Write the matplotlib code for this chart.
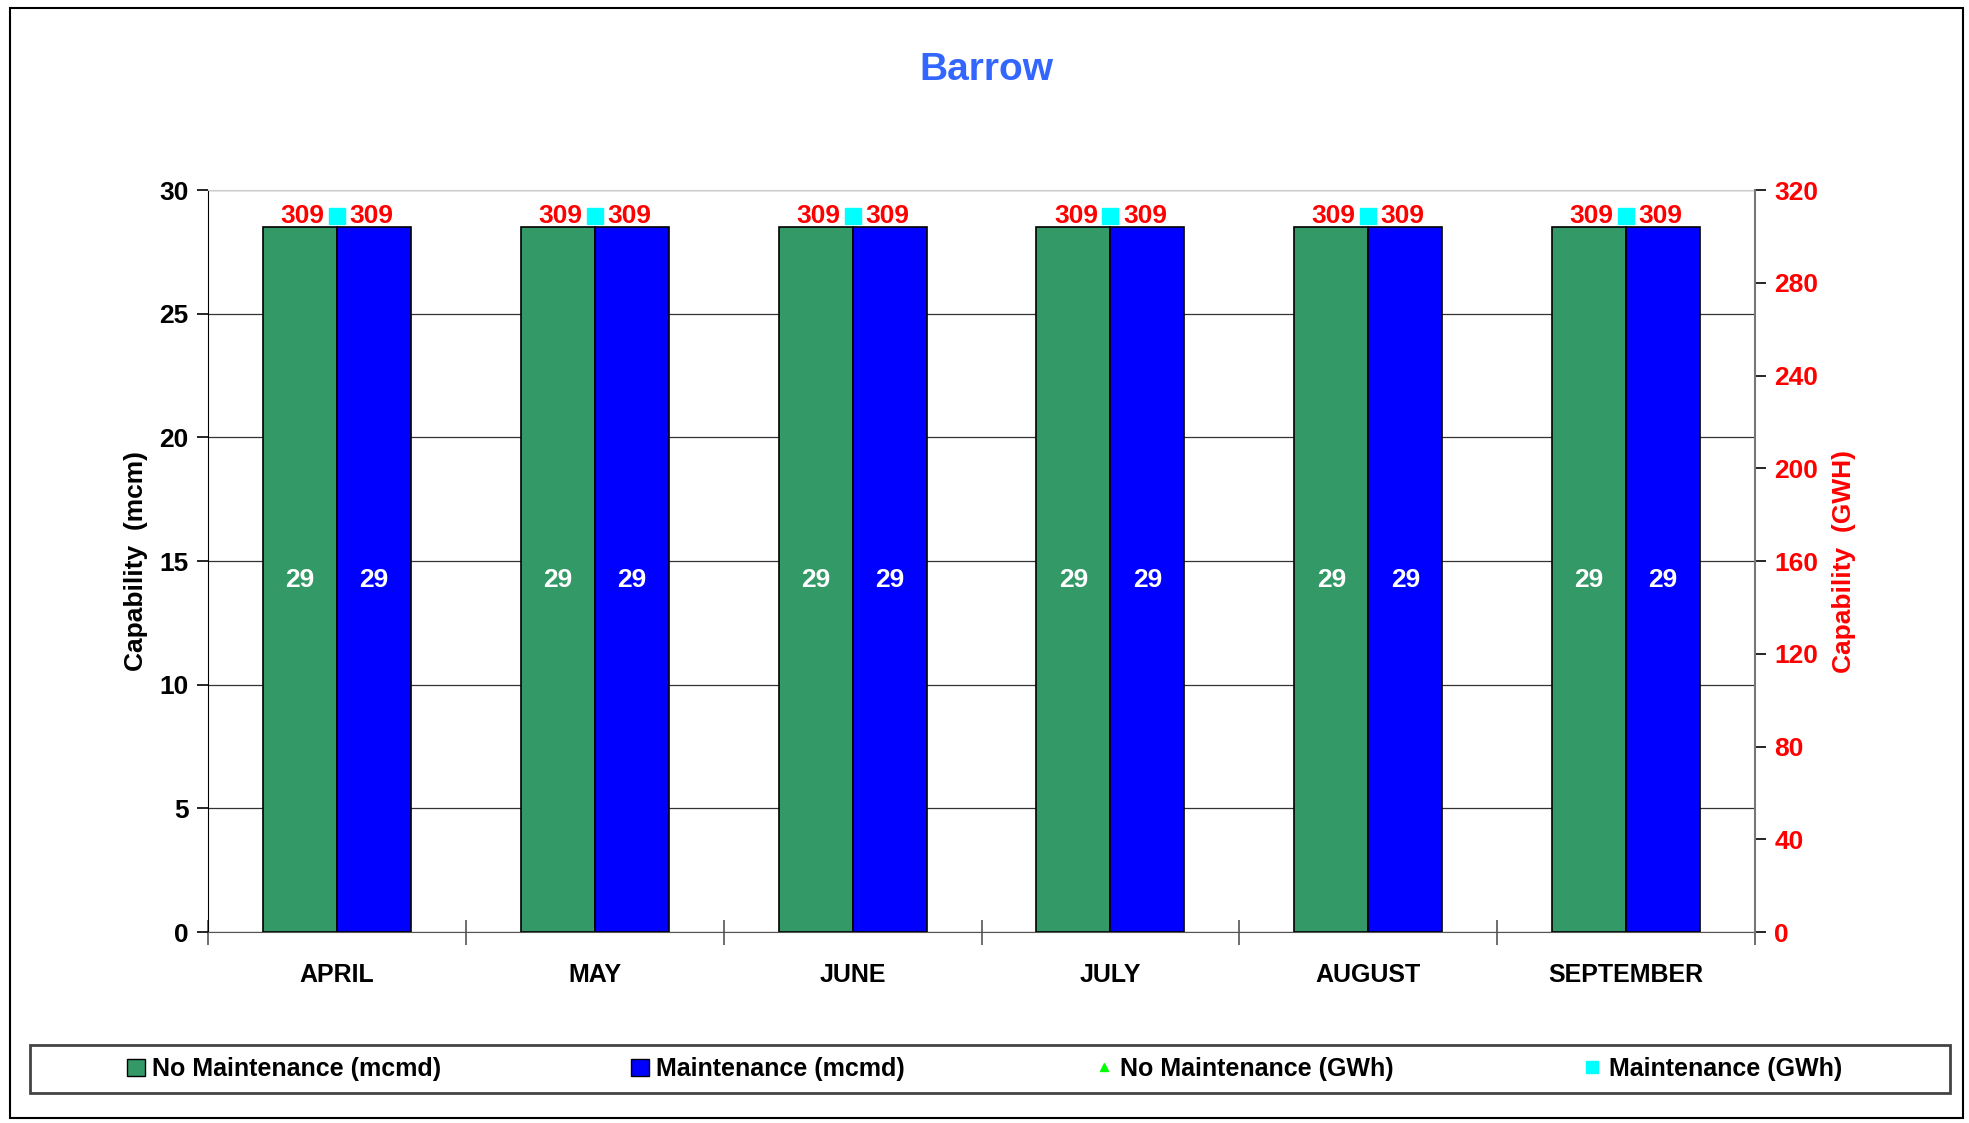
import matplotlib
matplotlib.use("Agg")
import matplotlib.pyplot as plt
from matplotlib.lines import Line2D
from matplotlib.patches import Patch, Rectangle
import numpy as np

# chart data
months = ["APRIL", "MAY", "JUNE", "JULY", "AUGUST", "SEPTEMBER"]
no_maint_mcmd = [28.5, 28.5, 28.5, 28.5, 28.5, 28.5]
maint_mcmd = [28.5, 28.5, 28.5, 28.5, 28.5, 28.5]
no_maint_gwh = [309, 309, 309, 309, 309, 309]
maint_gwh = [309, 309, 309, 309, 309, 309]

FONT = ["Liberation Sans Narrow", "Liberation Sans", "DejaVu Sans"]
plt.rcParams["font.family"] = FONT
plt.rcParams["font.weight"] = "bold"
plt.rcParams["axes.labelweight"] = "bold"

green = "#339966"
blue = "#0000FF"

fig = plt.figure(figsize=(19.69, 11.23), dpi=100)
ax = fig.add_axes([0.1057, 0.170, 0.7856, 0.6608])
ax2 = ax.twinx()

x = np.arange(len(months))
w = 0.287
ax.bar(x - w / 2, no_maint_mcmd, w, color=green, edgecolor="black", linewidth=1.2, zorder=3)
ax.bar(x + w / 2, maint_mcmd, w, color=blue, edgecolor="black", linewidth=1.2, zorder=3)

for i in range(len(months)):
    ax.text(x[i] - w / 2, no_maint_mcmd[i] / 2, "%.0f" % np.ceil(no_maint_mcmd[i]),
            color="white", fontsize=19, ha="center", va="center", zorder=4)
    ax.text(x[i] + w / 2, maint_mcmd[i] / 2, "%.0f" % np.ceil(maint_mcmd[i]),
            color="white", fontsize=19, ha="center", va="center", zorder=4)

ax.set_xlim(-0.5, len(months) - 0.5)
ax.set_ylim(0, 30)
ax.set_yticks(range(0, 31, 5))
ax.set_xticks(x)
ax.set_xticklabels(months, fontsize=18)
ax.set_xticks(np.arange(-0.5, len(months), 1), minor=True)
ax.tick_params(axis="x", which="major", length=0, pad=22)
ax.tick_params(axis="x", which="minor", length=18, direction="inout", color="#555555", width=1.2)
ax.tick_params(axis="y", labelsize=19, length=8, direction="out", width=1.2, pad=6)
ax.grid(axis="y", color="#333333", linewidth=0.9, zorder=0)
ax.set_axisbelow(True)
ax.spines["top"].set_color("#cccccc")
ax.spines["right"].set_visible(False)
ax.spines["left"].set_color("black")
ax.spines["bottom"].set_color("#555555")
ax.set_ylabel("Capability  (mcm)", fontsize=19, labelpad=8)

ax2.set_ylim(0, 320)
ax2.set_yticks(range(0, 321, 40))
ax2.tick_params(axis="y", labelsize=19, labelcolor="red", length=8, direction="out", width=1.2, pad=6)
ax2.spines["right"].set_color("#777777")
ax2.spines["right"].set_linewidth(1.5)
ax2.spines["top"].set_visible(False)
ax2.spines["left"].set_visible(False)
ax2.spines["bottom"].set_visible(False)
ax2.set_ylabel("Capability  (GWH)", fontsize=19, color="red", labelpad=10)

ax2.plot(x, no_maint_gwh, linestyle="none", marker="^", color="#00ff00", markersize=7, zorder=5)
ax2.plot(x, maint_gwh, linestyle="none", marker="s", color="#00ffff", markersize=11, zorder=6)
for i in range(len(months)):
    ax2.annotate(str(no_maint_gwh[i]), (x[i], no_maint_gwh[i]), xytext=(-9, 0), textcoords="offset points",
                 ha="right", va="center", color="red", fontsize=19)
    ax2.annotate(str(maint_gwh[i]), (x[i], maint_gwh[i]), xytext=(9, 0), textcoords="offset points",
                 ha="left", va="center", color="red", fontsize=19)

fig.text(0.5008, 0.938, "Barrow", color="#3366FF", fontsize=28, ha="center", va="center")

# legend box
fig.patches.append(Rectangle((30 / 1969, 1 - 1093 / 1123), 1920 / 1969, 48 / 1123,
                             transform=fig.transFigure, facecolor="white",
                             edgecolor="#444444", linewidth=2))
handles = [
    Patch(facecolor=green, edgecolor="black"),
    Patch(facecolor=blue, edgecolor="black"),
    Line2D([], [], linestyle="none", marker="^", color="#00ff00", markersize=6),
    Line2D([], [], linestyle="none", marker="s", color="#00ffff", markersize=9),
]
labels = ["No Maintenance (mcmd)", "Maintenance (mcmd)", "No Maintenance (GWh)", "Maintenance (GWh)"]
fig.legend(handles, labels, loc="center", bbox_to_anchor=(0.5, 1 - 1069 / 1123), ncol=4,
           frameon=False, fontsize=18, columnspacing=7.6, handlelength=0.7, handletextpad=0.3)

# outer border
fig.patches.append(Rectangle((10 / 1969, 5 / 1123), 1953 / 1969, 1110 / 1123,
                             transform=fig.transFigure, fill=False, edgecolor="black", linewidth=1.5))

fig.savefig("out.png", dpi=100, facecolor="white")
